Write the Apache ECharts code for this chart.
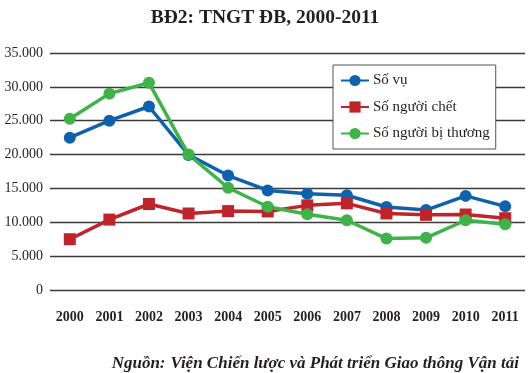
<!DOCTYPE html>
<html><head><meta charset="utf-8">
<script src="https://cdn.jsdelivr.net/npm/echarts@6/dist/echarts.min.js"></script>
<style>html,body{margin:0;padding:0;background:#fff}#c{width:530px;height:373px}</style>
</head><body><div id="c"></div>
<script>
var years = ['2000','2001','2002','2003','2004','2005','2006','2007','2008','2009','2010','2011'];
var soVu = [22500, 25000, 27100, 19950, 16900, 14700, 14200, 14000, 12250, 11800, 13900, 12350];
var soNguoiChet = [7500, 10400, 12700, 11300, 11650, 11600, 12500, 12800, 11300, 11100, 11150, 10600];
var soNguoiBiThuong = [25300, 29000, 30600, 20000, 15100, 12300, 11200, 10300, 7600, 7700, 10300, 9700];
var seriesNames = ['Số vụ', 'Số người chết', 'Số người bị thương'];
var chart = echarts.init(document.getElementById('c'));
var serif = 'Liberation Serif';
function fmt(v){ return String(v).replace(/\B(?=(\d{3})+(?!\d))/g, '.'); }
chart.setOption({
  animation: false,
  title: [{
    text: 'BĐ2: TNGT ĐB, 2000-2011', left: 'center', top: 3,
    textStyle: {fontFamily: serif, fontWeight: 'bold', fontSize: 19.5, color: '#231f20'}
  }, {
    text: '{b|Nguồn:} {i|Viện Chiến lược và Phát triển Giao thông Vận tải}',
    right: 6, top: 350,
    textStyle: {rich: {
      b: {fontFamily: serif, fontStyle: 'italic', fontWeight: 'bold', fontSize: 17, color: '#231f20'},
      i: {fontFamily: serif, fontStyle: 'italic', fontSize: 17, color: '#231f20'}
    }}
  }],
  legend: {
    orient: 'vertical', left: 333, top: 65, width: 168, height: 81,
    padding: [8, 6, 8, 7], itemGap: 11.5, itemWidth: 28, itemHeight: 14,
    backgroundColor: '#fff', borderColor: '#555', borderWidth: 1,
    textStyle: {fontFamily: serif, fontSize: 15, color: '#231f20', padding: [0, 0, 0, -1]},
    data: seriesNames
  },
  grid: {left: 50, right: 5, top: 53, bottom: 83},
  xAxis: {
    type: 'category', data: years, boundaryGap: true,
    axisLine: {show: false}, axisTick: {show: false},
    axisLabel: {fontFamily: serif, fontWeight: 'bold', fontSize: 14, color: '#231f20', margin: 20}
  },
  yAxis: {
    type: 'value', min: 0, max: 35000, interval: 5000,
    axisLine: {show: false}, axisTick: {show: false},
    splitLine: {lineStyle: {color: '#3a3a3a', width: 1.3}},
    axisLabel: {fontFamily: serif, fontSize: 14, color: '#231f20', margin: 7, formatter: fmt}
  },
  series: [{
    name: seriesNames[0], type: 'line', data: soVu,
    symbol: 'circle', symbolSize: 12,
    lineStyle: {width: 3.5, color: '#0d62ad'}, itemStyle: {color: '#0d62ad'}
  }, {
    name: seriesNames[1], type: 'line', data: soNguoiChet,
    symbol: 'rect', symbolSize: 12,
    lineStyle: {width: 3.5, color: '#c0242b'}, itemStyle: {color: '#c0242b'}
  }, {
    name: seriesNames[2], type: 'line', data: soNguoiBiThuong,
    symbol: 'circle', symbolSize: 12,
    lineStyle: {width: 3.5, color: '#3db34a'}, itemStyle: {color: '#3db34a'}
  }]
});
</script></body></html>
